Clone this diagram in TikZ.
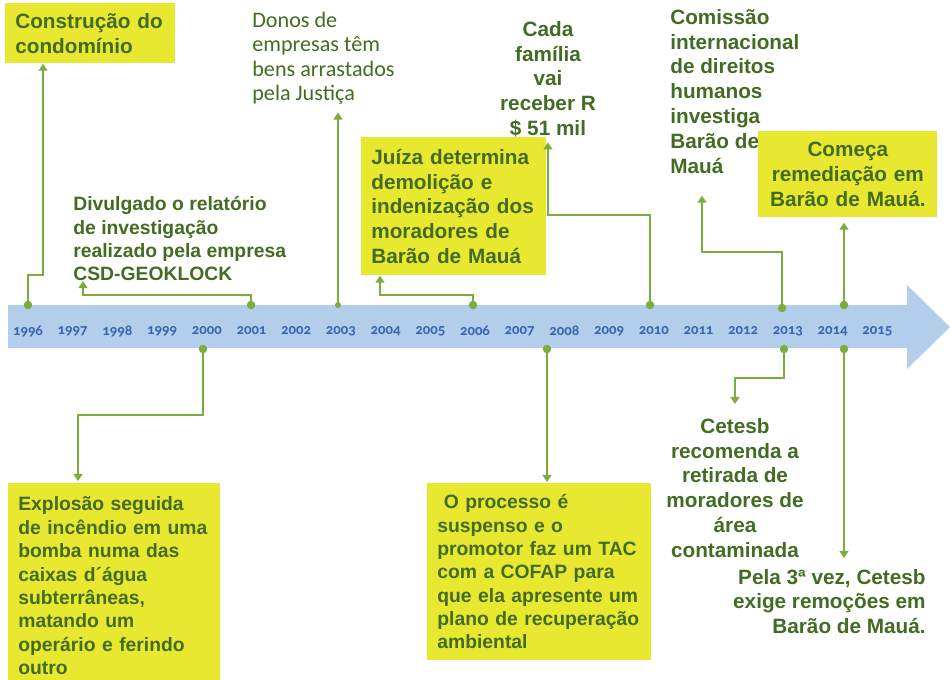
\documentclass[tikz,border=0pt]{standalone}
\usepackage{fontspec}
\setmainfont{Liberation Sans}
\newfontfamily\yearfont[Numbers=OldStyle]{Carlito}
\newfontfamily\softfont{Carlito}
\usetikzlibrary{arrows.meta,calc}
\definecolor{bandblue}{RGB}{179,206,234}
\definecolor{yearblue}{RGB}{52,102,176}
\definecolor{boxyellow}{RGB}{233,232,48}
\definecolor{linegreen}{RGB}{122,172,62}
\definecolor{textgreen}{RGB}{66,108,34}

\begin{document}
\begin{tikzpicture}[
  x=0.02cm, y=-0.02cm,
  box/.style={rectangle,fill=boxyellow,anchor=north west,inner xsep=0.2cm,inner ysep=0pt,align=left,text=textgreen,font=\bfseries\fontsize{11.8}{14.1}\selectfont},
  note/.style={inner sep=0pt,text=textgreen,font=\bfseries\fontsize{11.8}{14.1}\selectfont},
  link/.style={draw=linegreen,line width=1.7pt,-{Triangle[width=5pt,length=4pt]}},
  dot/.style={circle,fill=linegreen,inner sep=0pt,minimum size=0.17cm},
  year/.style={text=yearblue,font=\yearfont\bfseries\fontsize{8.4}{10}\selectfont}
]
\useasboundingbox (0,0) rectangle (951,680);
\clip (0,0) rectangle (951,680);

% timeline band
\fill[bandblue] (8,305) -- (907,305) -- (907,285) -- (950,327) -- (907,369) -- (907,348) -- (8,348) -- cycle;
\foreach \yr [count=\i from 0] in {1996,...,2015}
  \node[year] (y\yr) at ({28+44.7*\i},331) {\yr};

% dots on the band
\node[dot] (t1996) at (28,305) {};
\node[dot] (t2001) at (251,305) {};
\node[dot,minimum size=0.12cm] (t2003) at (338,305) {};
\node[dot] (t2006) at (473,305) {};
\node[dot] (t2010) at (650,305) {};
\node[dot] (t2013) at (782,308) {};
\node[dot] (t2014) at (844,305) {};
\node[dot] (b2000) at (203,349) {};
\node[dot] (b2008) at (547,349) {};
\node[dot] (b2013) at (784,349) {};
\node[dot] (b2014) at (844,349) {};

% events above
\node[box,text width=3cm,minimum height=1.2cm] (condo) at (5,3) {Construção do\\condomínio};
\node[note,anchor=south west,align=left,font=\bfseries\fontsize{11}{13.2}\selectfont] (divulg) at (73,281)
  {Divulgado o relatório\\de investigação\\realizado pela empresa\\CSD-GEOKLOCK};
\node[note,anchor=north west,align=left,font=\softfont\fontsize{12.6}{13.8}\selectfont] (donos) at (252,12)
  {Donos de\\empresas têm\\bens arrastados\\pela Justiça};
\node[box,text width=3.3cm,minimum height=2.76cm] (juiza) at (361,137)
  {Juíza determina\\demolição e\\indenização dos\\moradores de\\Barão de Mauá};
\node[note,anchor=north,align=center] (cada) at (548,21) {Cada\\família\\vai\\receber R\\\$ 51 mil};
\node[note,anchor=north west,align=left] (comis) at (670,9)
  {Comissão\\internacional\\de direitos\\humanos\\investiga\\Barão de\\Mauá};
\node[box,align=center,text width=3.18cm,minimum height=1.72cm] (comeca) at (758,131)
  {Começa\\remediação em\\Barão de Mauá.};

% events below
\node[box,text width=3.84cm,minimum height=4.1cm,font=\bfseries\fontsize{11}{13.3}\selectfont] (explo) at (8,483)
  {Explosão seguida\\de incêndio em uma\\bomba numa das\\caixas d´água\\subterrâneas,\\matando um\\operário e ferindo\\outro};
\node[box,text width=4.08cm,minimum height=3.54cm,font=\bfseries\fontsize{11}{13.3}\selectfont] (proc) at (427,483)
  {\ O processo é\\suspenso e o\\promotor faz um TAC\\com a COFAP para\\que ela apresente um\\plano de recuperação\\ambiental};
\node[note,anchor=north,align=center] (cetesb) at (735,418)
  {Cetesb\\recomenda a\\retirada de\\moradores de\\área\\contaminada};
\node[note,anchor=north east,align=right,font=\bfseries\fontsize{11.8}{13.9}\selectfont] (pela) at (926,569)
  {Pela 3ª vez, Cetesb\\exige remoções em\\Barão de Mauá.};

% connectors
\draw[link] (t1996.center) -- ++(0,-30) -| ($(condo.south west)+(38,0)$);
\draw[link] (t2001.center) -- ++(0,-10) -| ($(divulg.south west)+(10,0)$);
\draw[link,shorten >=0.16cm] (t2003.center) -- (t2003.center |- donos.south);
\draw[link] (t2006.center) -- ++(0,-10) -| ($(juiza.south west)+(19,0)$);
\draw[link,shorten >=0.1cm] (t2010.center) -- ++(0,-90) -| (cada.south);
\draw[link] (t2013.center) -- ++(0,-56) -| ($(comis.south west)+(32,22)$);
\draw[link,shorten >=0.1cm] (t2014.center) -- (t2014.center |- comeca.south);
\draw[link] (b2000.center) -- ++(0,66) -| ($(explo.north west)+(70,-2)$);
\draw[link] (b2008.center) -- ($(b2008.center |- proc.north)+(0,-1)$);
\draw[link] (b2013.center) -- ++(0,29) -| ($(cetesb.north)+(0,-14)$);
\draw[link,shorten >=0.22cm] (b2014.center) -- (b2014.center |- pela.north);
\end{tikzpicture}
\end{document}
